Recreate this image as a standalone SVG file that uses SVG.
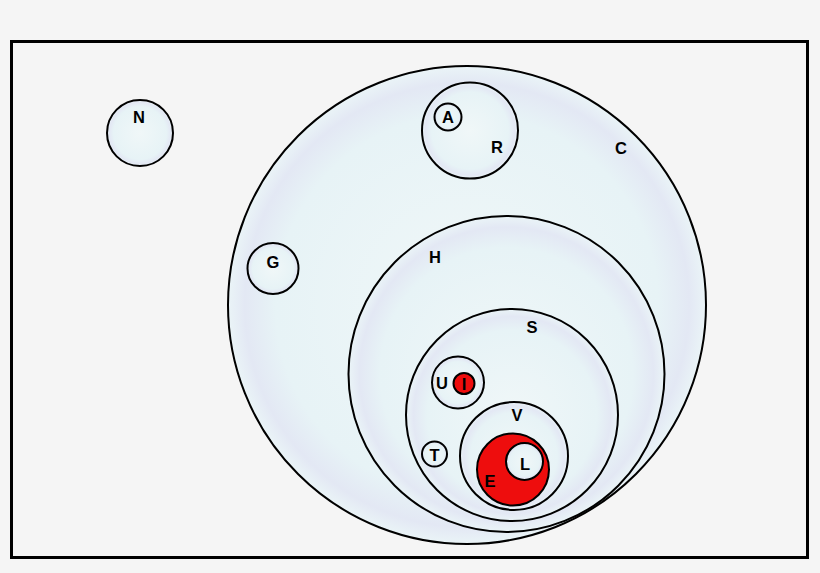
<svg xmlns="http://www.w3.org/2000/svg" width="820" height="573" viewBox="0 0 820 573">
<defs>
<radialGradient id="bub" cx="0.5" cy="0.5" r="0.5">
<stop offset="0" stop-color="#f0f7f8"/>
<stop offset="0.8" stop-color="#e7f3f6"/>
<stop offset="0.93" stop-color="#e3e8f4"/>
<stop offset="1" stop-color="#eaf4f7"/>
</radialGradient>
<style>
.b{fill:url(#bub);stroke:#000;stroke-width:2}
.r{fill:#ee0d0d;stroke:#000;stroke-width:2}
.t{font-family:"Liberation Sans",Arial,sans-serif;font-weight:bold;font-size:16.5px;text-anchor:middle;dominant-baseline:central;fill:#000}
</style>
</defs>
<rect x="0" y="0" width="820" height="573" fill="#f5f5f5"/>
<rect x="11.5" y="41.5" width="796" height="516" fill="#f5f5f5" stroke="#000" stroke-width="3"/>
<g id="N"><circle class="b" cx="140" cy="133" r="33"/><text class="t" x="139" y="117">N</text></g>
<g id="C"><circle class="b" cx="467" cy="305" r="239"/><text class="t" x="621" y="148">C</text></g>
<g id="R"><circle class="b" cx="470" cy="130.5" r="48"/><text class="t" x="497" y="147">R</text></g>
<g id="A"><circle class="b" cx="448" cy="117" r="13.5"/><text class="t" x="448" y="117">A</text></g>
<g id="G"><circle class="b" cx="273" cy="268.5" r="25.5"/><text class="t" x="273" y="262">G</text></g>
<g id="H"><circle class="b" cx="506.5" cy="374" r="158"/><text class="t" x="435" y="257">H</text></g>
<g id="S"><circle class="b" cx="512" cy="415" r="106"/><text class="t" x="532" y="327">S</text></g>
<g id="U"><circle class="b" cx="458" cy="382.5" r="26"/><text class="t" x="442" y="383">U</text></g>
<g id="I"><circle class="r" cx="464" cy="383.5" r="10.5"/><text class="t" x="464" y="384">I</text></g>
<g id="T"><circle class="b" cx="434.5" cy="454" r="12.5"/><text class="t" x="434.5" y="455">T</text></g>
<g id="V"><circle class="b" cx="514" cy="456" r="54"/><text class="t" x="517" y="415">V</text></g>
<g id="E"><circle class="r" cx="513" cy="469.5" r="36"/><text class="t" x="490" y="481">E</text></g>
<g id="L"><circle class="b" cx="524.5" cy="461.5" r="18.5"/><text class="t" x="525" y="464">L</text></g>
<g id="connectors"></g>
</svg>
